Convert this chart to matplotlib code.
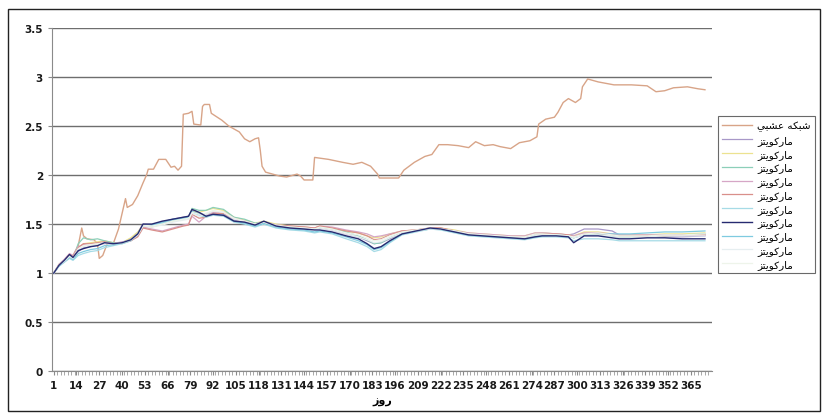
#!/usr/bin/env python3
import numpy as np
import matplotlib.pyplot as plt
from matplotlib.patches import Rectangle

# legend labels (Arabic presentation forms, visual order)
label_nn = "\uFEF2\uFE92\uFEB8\uFECB \uFEEA\uFB91\uFE92\uFEB7"   # شبکه عصبي
label_mk = "\uFEB0\uFE98\uFEF3\uFEEE\uFB90\uFEAD\uFE8E\uFEE3"    # مارکويتز
xlabel_txt = "\uFEAF\uFEED\uFEAD"                                 # روز

tick_days = list(range(1, 366, 13))

# top line (neural network)
days_o = [1, 4, 8, 12, 15, 17, 18, 20, 24, 26, 27, 29, 32, 35, 38, 42, 43, 46, 49, 52,
          54, 55, 58, 61, 65, 68, 70, 72, 74, 75, 78, 80, 81, 85, 86, 87, 90, 91, 97, 101,
          107, 110, 113, 116, 118, 119, 120, 122, 130, 134, 140, 142, 144, 149, 150, 158, 166, 172, 177, 182,
          186, 187, 198, 201, 207, 213, 217, 221, 226, 232, 238, 242, 247, 252, 256, 262, 267, 273, 277, 278,
          282, 287, 289, 292, 295, 299, 302, 303, 306, 312, 321, 331, 340, 345, 350, 355, 363, 369, 373]
vals_o = [1.00, 1.08, 1.13, 1.18, 1.28, 1.46, 1.38, 1.35, 1.34, 1.30, 1.15, 1.18, 1.32, 1.30, 1.45, 1.76, 1.67, 1.70, 1.79, 1.92,
          2.00, 2.06, 2.06, 2.16, 2.16, 2.08, 2.09, 2.05, 2.09, 2.62, 2.63, 2.65, 2.52, 2.51, 2.70, 2.72, 2.72, 2.63, 2.56, 2.50,
          2.44, 2.37, 2.34, 2.37, 2.38, 2.25, 2.09, 2.03, 1.99, 1.98, 2.01, 1.99, 1.95, 1.95, 2.18, 2.16, 2.13, 2.11, 2.13, 2.09,
          2.01, 1.97, 1.97, 2.05, 2.13, 2.19, 2.21, 2.31, 2.31, 2.30, 2.28, 2.34, 2.30, 2.31, 2.29, 2.27, 2.33, 2.35, 2.39, 2.52,
          2.57, 2.59, 2.64, 2.74, 2.78, 2.74, 2.78, 2.90, 2.98, 2.95, 2.92, 2.92, 2.91, 2.85, 2.86, 2.89, 2.90, 2.88, 2.87]

# Markowitz cluster
days_c = [1, 4, 7, 10, 12, 15, 18, 22, 26, 30, 35, 40, 45, 49, 52, 57, 63, 69, 75, 78,
          80, 84, 88, 92, 98, 104, 110, 116, 121, 128, 136, 144, 150, 153, 160, 168, 175, 180, 184, 188,
          193, 200, 208, 216, 222, 230, 238, 246, 254, 262, 270, 276, 280, 288, 295, 298, 304, 312, 320, 324,
          330, 340, 350, 360, 373]

mk1 = [1.00, 1.08, 1.12, 1.17, 1.16, 1.22, 1.26, 1.27, 1.29, 1.31, 1.30, 1.31, 1.35, 1.41, 1.50, 1.49, 1.52, 1.55, 1.57, 1.58,
       1.64, 1.61, 1.60, 1.62, 1.60, 1.54, 1.52, 1.50, 1.52, 1.48, 1.46, 1.45, 1.45, 1.46, 1.44, 1.40, 1.37, 1.33, 1.30, 1.31,
       1.35, 1.41, 1.43, 1.46, 1.45, 1.43, 1.40, 1.39, 1.38, 1.37, 1.37, 1.40, 1.41, 1.40, 1.39, 1.40, 1.45, 1.45, 1.43, 1.39,
       1.38, 1.38, 1.37, 1.37, 1.38]
mk2 = [1.00, 1.09, 1.13, 1.18, 1.17, 1.26, 1.30, 1.31, 1.32, 1.33, 1.31, 1.31, 1.36, 1.42, 1.49, 1.47, 1.50, 1.53, 1.55, 1.56,
       1.63, 1.62, 1.64, 1.66, 1.64, 1.57, 1.54, 1.51, 1.53, 1.50, 1.48, 1.47, 1.46, 1.48, 1.46, 1.43, 1.41, 1.38, 1.36, 1.37,
       1.40, 1.43, 1.44, 1.46, 1.46, 1.44, 1.41, 1.40, 1.39, 1.38, 1.38, 1.41, 1.41, 1.40, 1.39, 1.38, 1.42, 1.42, 1.40, 1.39,
       1.39, 1.39, 1.40, 1.40, 1.41]
mk3 = [1.00, 1.08, 1.12, 1.18, 1.15, 1.30, 1.36, 1.34, 1.35, 1.33, 1.31, 1.30, 1.33, 1.39, 1.47, 1.48, 1.51, 1.54, 1.56, 1.57,
       1.66, 1.64, 1.64, 1.67, 1.65, 1.57, 1.55, 1.51, 1.52, 1.49, 1.47, 1.46, 1.45, 1.47, 1.45, 1.42, 1.38, 1.34, 1.30, 1.31,
       1.36, 1.41, 1.43, 1.45, 1.45, 1.42, 1.40, 1.38, 1.37, 1.36, 1.36, 1.39, 1.40, 1.39, 1.38, 1.36, 1.40, 1.40, 1.38, 1.37,
       1.37, 1.38, 1.38, 1.39, 1.40]
mk4 = [1.00, 1.09, 1.14, 1.20, 1.18, 1.27, 1.29, 1.28, 1.29, 1.30, 1.30, 1.32, 1.33, 1.38, 1.47, 1.45, 1.43, 1.46, 1.49, 1.50,
       1.58, 1.52, 1.58, 1.62, 1.62, 1.56, 1.53, 1.50, 1.52, 1.49, 1.48, 1.47, 1.46, 1.48, 1.47, 1.44, 1.42, 1.40, 1.37, 1.38,
       1.40, 1.43, 1.44, 1.46, 1.46, 1.43, 1.41, 1.40, 1.39, 1.38, 1.38, 1.41, 1.41, 1.40, 1.39, 1.38, 1.41, 1.41, 1.40, 1.39,
       1.39, 1.39, 1.39, 1.39, 1.39]
mk5 = [1.00, 1.08, 1.13, 1.19, 1.17, 1.26, 1.30, 1.30, 1.31, 1.32, 1.30, 1.31, 1.33, 1.37, 1.46, 1.44, 1.42, 1.45, 1.48, 1.49,
       1.60, 1.56, 1.57, 1.61, 1.61, 1.55, 1.53, 1.50, 1.52, 1.49, 1.48, 1.47, 1.46, 1.48, 1.46, 1.43, 1.41, 1.38, 1.34, 1.35,
       1.39, 1.43, 1.44, 1.46, 1.46, 1.43, 1.40, 1.39, 1.38, 1.37, 1.37, 1.40, 1.40, 1.40, 1.39, 1.37, 1.40, 1.40, 1.39, 1.38,
       1.38, 1.38, 1.38, 1.39, 1.39]
mk6 = [1.00, 1.07, 1.11, 1.15, 1.13, 1.18, 1.20, 1.22, 1.23, 1.26, 1.28, 1.30, 1.33, 1.39, 1.48, 1.48, 1.51, 1.54, 1.55, 1.56,
       1.62, 1.59, 1.57, 1.59, 1.58, 1.52, 1.50, 1.47, 1.50, 1.46, 1.44, 1.43, 1.41, 1.42, 1.40, 1.35, 1.31, 1.27, 1.22, 1.24,
       1.31, 1.39, 1.42, 1.45, 1.44, 1.41, 1.38, 1.37, 1.36, 1.35, 1.34, 1.36, 1.37, 1.37, 1.36, 1.33, 1.35, 1.35, 1.34, 1.33,
       1.33, 1.33, 1.33, 1.33, 1.33]
mk7 = [1.00, 1.08, 1.13, 1.19, 1.16, 1.23, 1.25, 1.27, 1.28, 1.31, 1.30, 1.31, 1.34, 1.40, 1.50, 1.50, 1.53, 1.55, 1.57, 1.58,
       1.65, 1.62, 1.58, 1.60, 1.59, 1.53, 1.52, 1.49, 1.53, 1.48, 1.46, 1.45, 1.44, 1.44, 1.42, 1.38, 1.35, 1.30, 1.25, 1.27,
       1.33, 1.40, 1.43, 1.46, 1.45, 1.42, 1.39, 1.38, 1.37, 1.36, 1.35, 1.37, 1.38, 1.38, 1.37, 1.31, 1.38, 1.38, 1.36, 1.35,
       1.35, 1.36, 1.36, 1.35, 1.35]
mk8 = [1.00, 1.07, 1.12, 1.16, 1.14, 1.20, 1.22, 1.24, 1.25, 1.28, 1.29, 1.31, 1.34, 1.40, 1.49, 1.49, 1.52, 1.55, 1.56, 1.57,
       1.63, 1.60, 1.58, 1.60, 1.59, 1.53, 1.51, 1.48, 1.51, 1.47, 1.45, 1.44, 1.42, 1.43, 1.41, 1.37, 1.33, 1.29, 1.24, 1.26,
       1.32, 1.40, 1.43, 1.45, 1.45, 1.42, 1.39, 1.38, 1.37, 1.36, 1.35, 1.37, 1.38, 1.39, 1.38, 1.36, 1.39, 1.40, 1.40, 1.40,
       1.40, 1.41, 1.42, 1.42, 1.43]
mk9 = [1.00, 1.08, 1.12, 1.17, 1.15, 1.24, 1.27, 1.28, 1.29, 1.30, 1.30, 1.31, 1.34, 1.39, 1.48, 1.47, 1.49, 1.52, 1.54, 1.55,
       1.61, 1.58, 1.60, 1.63, 1.62, 1.55, 1.53, 1.50, 1.52, 1.48, 1.47, 1.46, 1.45, 1.46, 1.44, 1.40, 1.37, 1.34, 1.31, 1.32,
       1.36, 1.41, 1.43, 1.45, 1.45, 1.43, 1.40, 1.39, 1.38, 1.37, 1.36, 1.39, 1.39, 1.39, 1.38, 1.36, 1.39, 1.39, 1.38, 1.37,
       1.37, 1.37, 1.38, 1.38, 1.38]
mk10 = [1.00, 1.08, 1.13, 1.18, 1.16, 1.25, 1.28, 1.29, 1.30, 1.31, 1.30, 1.31, 1.34, 1.40, 1.49, 1.48, 1.50, 1.53, 1.55, 1.56,
        1.62, 1.60, 1.61, 1.64, 1.62, 1.56, 1.53, 1.50, 1.52, 1.49, 1.47, 1.46, 1.45, 1.47, 1.45, 1.41, 1.39, 1.36, 1.33, 1.34,
        1.38, 1.42, 1.44, 1.46, 1.45, 1.43, 1.40, 1.39, 1.38, 1.37, 1.37, 1.40, 1.40, 1.39, 1.38, 1.37, 1.40, 1.41, 1.39, 1.38,
        1.38, 1.38, 1.39, 1.39, 1.40]

mk_series = [mk1, mk2, mk3, mk4, mk5, mk6, mk7, mk8, mk9, mk10]
mk_colors = ["#a898c8", "#ece290", "#8ccfb8", "#d6a6c6", "#d98f8a",
             "#a6dbe6", "#262a70", "#7fcbe0", "#e6eef0", "#eef4ea"]
mk_widths = [0.9, 0.9, 0.9, 0.9, 0.9, 0.9, 1.0, 0.9, 0.9, 0.9]

fig = plt.figure(figsize=(8.25, 4.14), dpi=100)
ax = fig.add_axes([0.063, 0.101, 0.800, 0.829])

lines = []
l0, = ax.plot(days_o, vals_o, color="#d8a488", lw=1.0, label=label_nn)
lines.append(l0)
for s, c, w in zip(mk_series, mk_colors, mk_widths):
    l, = ax.plot(days_c, s, color=c, lw=w, label=label_mk)
    lines.append(l)
# navy line drawn on top like the original
lines[7].set_zorder(3)

ax.set_xlim(0, 377)
ax.set_ylim(0, 3.5)
ax.set_yticks(np.arange(0, 3.51, 0.5))
ax.set_yticklabels(["0", "0.5", "1", "1.5", "2", "2.5", "3", "3.5"])
ax.set_xticks(tick_days)
ax.set_xticks(np.arange(1, 377, 2), minor=True)
ax.grid(axis="y", color="#6e6e6e", lw=1.0)
ax.set_axisbelow(True)

for side in ["top", "right"]:
    ax.spines[side].set_visible(False)
ax.spines["left"].set_color("#8a8a8a")
ax.spines["bottom"].set_color("#8a8a8a")
ax.tick_params(axis="both", which="major", labelsize=7.5, colors="#8a8a8a",
               labelcolor="#1a1a1a", length=3)
ax.tick_params(axis="x", which="minor", length=3, colors="#9a9a9a")
for t in ax.get_xticklabels() + ax.get_yticklabels():
    t.set_fontweight("bold")

ax.set_xlabel(xlabel_txt, fontsize=8, fontweight="bold", family="DejaVu Sans", labelpad=4)

leg = fig.legend(handles=lines, loc="upper left", bbox_to_anchor=(0.870, 0.717),
                 prop={"family": "DejaVu Sans", "size": 7.5},
                 frameon=True, fancybox=False, edgecolor="#444444",
                 handlelength=2.9, handletextpad=0.5, labelspacing=0.36,
                 borderpad=0.4, borderaxespad=0)
leg.get_frame().set_linewidth(0.8)

# outer chart border
fig.patches.append(Rectangle((0.010, 0.006), 0.984, 0.971, transform=fig.transFigure,
                             fill=False, edgecolor="#222222", lw=1.0))

fig.savefig("out.png", dpi=100)
